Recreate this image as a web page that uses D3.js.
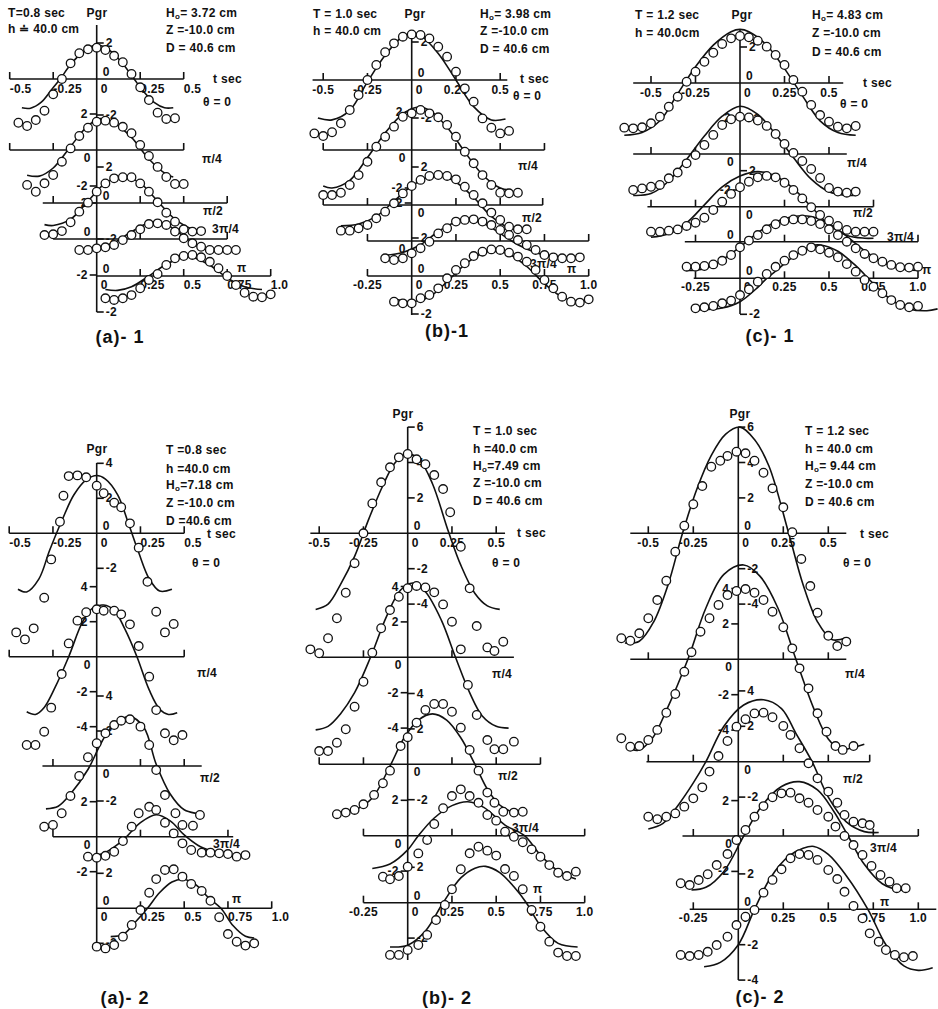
<!DOCTYPE html>
<html>
<head>
<meta charset="utf-8">
<script src="https://cdn.jsdelivr.net/npm/d3@7"></script>
<style>
body{margin:0;background:#fff}
svg text{font-family:"Liberation Sans",Arial,sans-serif;font-weight:bold;fill:#111;font-size:12px;letter-spacing:0.3px}
.cap{font-size:18px;letter-spacing:1px}
</style>
</head>
<body>
<script>
//DATA
//-------------------------------------------------------------------------
const thetaNames = ["θ = 0", "π/4", "π/2", "3π/4", "π"];
const topTimeLabels = [-0.5, -0.25, 0, 0.25, 0.5];
const aBottomLabels = [0, 0.25, 0.5, 0.75, 1];
const bcBottomLabels = [-0.25, 0, 0.25, 0.5, 0.75, 1];

//(a)-1  T = 0.8 sec
const a1Info = ["T=0.8 sec", "h ≐ 40.0 cm", "Ho= 3.72 cm", "Z =-10.0 cm", "D = 40.6 cm"];
const a1Spans = [[-0.5,0.5],[-0.5,0.5],[-0.31,0.75],[-0.25,0.75],[0,1]];
const a1Ticks = [[-0.5,-0.25,0.25,0.5],[-0.5,-0.25,0.25,0.5],[-0.25,0.25,0.5,0.75],[-0.25,0.25,0.5,0.75],[0.25,0.5,0.75,1]];
const a1YTicks = [[[2,"r"],[0,"ra"],[-2,"r"]],[[2,"l"],[0,"lb"],[-2,"l"]],[[2,"r"],[0,"ra"],[-2,"r"]],[[2,"l"],[0,"la"],[-2,"l"]],[[0,"ra"],[-2,"r"]]];
const a1Curves = [
 [[-0.43,-1.6],[-0.38,-1.62],[-0.32,-1.3],[-0.26,-0.6],[-0.21,0],[-0.15,0.8],[-0.08,1.5],[0,1.9],[0.08,1.55],[0.15,0.85],[0.215,0],[0.27,-0.7],[0.33,-1.3],[0.39,-1.6],[0.44,-1.6]],
 [[-0.4,-1.4],[-0.33,-1.45],[-0.25,-1.0],[-0.15,0.2],[-0.05,1.35],[0.02,1.75],[0.1,1.5],[0.2,0.7],[0.3,-0.5],[0.4,-1.35],[0.44,-1.5]],
 [[-0.3,-1.2],[-0.25,-1.25],[-0.15,-0.9],[-0.05,0.1],[0.05,1.1],[0.15,1.5],[0.25,1.1],[0.35,0.1],[0.45,-0.9],[0.55,-1.45],[0.6,-1.5]],
 [[-0.1,-0.55],[0,-0.5],[0.1,-0.2],[0.2,0.4],[0.3,0.9],[0.35,0.95],[0.42,0.7],[0.5,0.15],[0.58,-0.4],[0.65,-0.6]],
 [[0.05,-0.75],[0.12,-0.8],[0.2,-0.6],[0.3,0],[0.4,0.65],[0.5,1.05],[0.55,1.05],[0.65,0.6],[0.75,-0.1],[0.85,-0.6],[0.95,-0.75]]
];
const a1Dots = [
 [[-0.45,-2.43],[-0.4,-2.61],[-0.35,-2.28],[-0.3,-1.76],[-0.25,-0.85],[-0.2,0],[-0.15,0.87],[-0.1,1.43],[-0.05,1.65],[0,1.74],[0.05,1.61],[0.1,1.29],[0.15,0.93],[0.2,0.28],[0.25,-0.46],[0.3,-1.17],[0.35,-1.87],[0.4,-2.22],[0.45,-2.18]],
 [[-0.4,-1.94],[-0.35,-2.32],[-0.3,-1.85],[-0.25,-1.39],[-0.2,-0.65],[-0.15,0.09],[-0.1,0.78],[-0.05,1.24],[0,1.57],[0.05,1.63],[0.1,1.52],[0.15,1.29],[0.2,0.93],[0.25,0.28],[0.3,-0.33],[0.35,-0.94],[0.4,-1.5],[0.45,-1.89],[0.5,-1.89]],
 [[-0.3,-1.78],[-0.25,-1.74],[-0.2,-1.56],[-0.15,-1.07],[-0.1,-0.48],[-0.05,0.02],[0,0.63],[0.05,1.09],[0.1,1.37],[0.15,1.43],[0.2,1.43],[0.25,1.09],[0.3,0.63],[0.35,0.04],[0.4,-0.54],[0.45,-1.04],[0.5,-1.46],[0.55,-1.59],[0.6,-1.56]],
 [[-0.1,-0.61],[-0.05,-0.61],[0,-0.52],[0.05,-0.46],[0.1,-0.33],[0.15,-0.06],[0.2,0.22],[0.25,0.54],[0.3,0.83],[0.35,0.87],[0.4,0.78],[0.45,0.41],[0.5,0.04],[0.55,-0.24],[0.6,-0.43],[0.65,-0.61],[0.7,-0.61],[0.75,-0.61],[0.8,-0.61]],
 [[0.05,-1.24],[0.1,-1.33],[0.15,-1.24],[0.2,-1.06],[0.25,-0.68],[0.3,-0.22],[0.35,0.11],[0.4,0.61],[0.45,0.98],[0.5,1.11],[0.55,1.17],[0.6,1.04],[0.65,0.79],[0.7,0.43],[0.75,0],[0.8,-0.5],[0.85,-0.93],[0.9,-1.15],[0.95,-1.18],[1.0,-1.02]]
];

//(b)-1  T = 1.0 sec
const b1Info = ["T = 1.0  sec", "h = 40.0 cm", "Ho= 3.98 cm", "Z =-10.0 cm", "D = 40.6 cm"];
const b1Spans = [[-0.56,0.54],[-0.5,0.75],[-0.5,0.74],[-0.25,1],[-0.25,1]];
const b1Ticks = [[-0.5,-0.25,0.25,0.5],[-0.5,-0.25,0.25,0.5,0.75],[-0.5,-0.25,0.25,0.5,0.74],[-0.25,0.25,0.5,0.75,1],[-0.25,0.25,0.5,0.75,1]];
const b1YTicks = [[[2,"r"],[0,"ra"],[-2,"r"]],[[2,"l"],[0,"lb"],[-2,"l"]],[[2,"r"],[0,"rb"]],[[2,"l"],[0,"lb"]],[[2,"r"],[0,"ra"],[-2,"r"]]];
const b1Curves = [
 [[-0.53,-2.0],[-0.45,-2.1],[-0.35,-1.6],[-0.25,-0.1],[-0.15,1.3],[-0.05,2.3],[0,2.45],[0.05,2.35],[0.15,1.4],[0.25,0],[0.35,-1.4],[0.45,-2.1],[0.53,-2.05]],
 [[-0.5,-1.9],[-0.45,-2.0],[-0.35,-1.6],[-0.25,-0.4],[-0.15,0.9],[-0.05,1.9],[0.03,2.25],[0.1,2.1],[0.2,1.2],[0.3,-0.1],[0.4,-1.3],[0.5,-2.0],[0.55,-2.1]],
 [[-0.4,-1.1],[-0.3,-1.0],[-0.2,-0.6],[-0.1,0.2],[0,1.0],[0.1,1.5],[0.15,1.55],[0.25,1.2],[0.35,0.4],[0.45,-0.6],[0.55,-1.2],[0.65,-1.3]],
 [[-0.15,-0.75],[-0.05,-0.6],[0.05,-0.2],[0.15,0.5],[0.25,1.0],[0.32,1.1],[0.4,0.95],[0.5,0.4],[0.6,-0.2],[0.7,-0.6],[0.8,-0.85],[0.9,-0.9]],
 [[-0.1,-1.2],[0,-1.35],[0.1,-1.1],[0.2,-0.3],[0.3,0.6],[0.4,1.2],[0.45,1.3],[0.55,1.15],[0.65,0.5],[0.75,-0.4],[0.85,-1.1],[0.95,-1.35],[1.0,-1.3]]
];
const b1Dots = [
 [[-0.55,-2.81],[-0.5,-2.95],[-0.45,-2.75],[-0.4,-2.28],[-0.35,-1.58],[-0.3,-0.79],[-0.25,0],[-0.2,0.79],[-0.15,1.46],[-0.1,1.93],[-0.05,2.28],[0,2.4],[0.05,2.37],[0.1,2.19],[0.15,1.75],[0.2,1.23],[0.25,0.44],[0.3,-0.44],[0.35,-1.14],[0.4,-2.02],[0.45,-2.51],[0.5,-2.81],[0.55,-2.68]],
 [[-0.5,-2.37],[-0.45,-2.37],[-0.4,-2.25],[-0.35,-1.84],[-0.3,-1.32],[-0.25,-0.62],[-0.2,0.17],[-0.15,0.7],[-0.1,1.23],[-0.05,1.75],[0,1.93],[0.05,2.11],[0.1,1.93],[0.15,1.72],[0.2,1.32],[0.25,0.7],[0.3,-0.09],[0.35,-0.7],[0.4,-1.32],[0.45,-1.84],[0.5,-2.25],[0.55,-2.28],[0.6,-2.25]],
 [[-0.4,-1.35],[-0.35,-1.35],[-0.3,-1.23],[-0.25,-1.05],[-0.2,-0.7],[-0.15,-0.35],[-0.1,0.09],[-0.05,0.61],[0,1.0],[0.05,1.32],[0.1,1.53],[0.15,1.58],[0.2,1.53],[0.25,1.35],[0.3,0.96],[0.35,0.53],[0.4,0.09],[0.45,-0.4],[0.5,-0.79],[0.55,-1.14],[0.6,-1.28],[0.65,-1.28]],
 [[-0.15,-0.91],[-0.1,-1.0],[-0.05,-0.91],[0,-0.65],[0.05,-0.38],[0.1,-0.04],[0.15,0.4],[0.2,0.67],[0.25,1.02],[0.3,1.11],[0.35,1.14],[0.4,1.02],[0.45,0.84],[0.5,0.58],[0.55,0.32],[0.6,0.05],[0.65,-0.21],[0.7,-0.47],[0.75,-0.74],[0.8,-0.86],[0.85,-0.91],[0.9,-0.91],[0.95,-0.86]],
 [[-0.1,-1.35],[-0.05,-1.44],[0,-1.44],[0.05,-1.17],[0.1,-1.0],[0.15,-0.65],[0.2,-0.12],[0.25,0.32],[0.3,0.67],[0.35,1.05],[0.4,1.28],[0.45,1.4],[0.5,1.37],[0.55,1.23],[0.6,1.02],[0.65,0.75],[0.7,0.32],[0.75,-0.21],[0.8,-0.65],[0.85,-1.09],[0.9,-1.35],[0.95,-1.4],[1.0,-1.23]]
];

//(c)-1  T = 1.2 sec
const c1Info = ["T = 1.2 sec", "h = 40.0cm", "Ho= 4.83 cm", "Z =-10.0 cm", "D = 40.6 cm"];
const c1Spans = [[-0.6,0.58],[-0.6,0.6],[-0.52,0.75],[-0.31,1],[-0.26,1]];
const c1Ticks = [[-0.5,-0.25,0.25,0.5],[-0.5,-0.25,0.25,0.5],[-0.5,-0.25,0.25,0.5,0.75],[-0.25,0.25,0.5,1],[-0.25,0.25,0.5,0.75,1]];
const c1YTicks = [[[2,"r"],[0,"ra"],[-2,"r"]],[[2,"l"],[0,"lb"],[-2,"l"]],[[2,"r"],[0,"rb"]],[[0,"la"]],[[0,"ra"],[-2,"r"]]];
const c1Curves = [
 [[-0.65,-2.9],[-0.55,-2.75],[-0.45,-2.1],[-0.35,-0.6],[-0.25,0.9],[-0.15,2.1],[-0.05,2.85],[0,2.98],[0.05,2.85],[0.15,2.1],[0.25,0.8],[0.35,-0.7],[0.45,-2.1],[0.55,-2.75],[0.65,-2.9]],
 [[-0.6,-2.3],[-0.5,-2.2],[-0.4,-1.5],[-0.3,-0.3],[-0.2,1.0],[-0.1,2.1],[0,2.65],[0.1,2.2],[0.2,1.1],[0.3,-0.2],[0.4,-1.4],[0.5,-2.1],[0.6,-2.3],[0.65,-2.3]],
 [[-0.5,-1.7],[-0.4,-1.5],[-0.3,-0.9],[-0.2,0.1],[-0.1,1.1],[0,1.7],[0.1,1.95],[0.2,1.7],[0.3,1.0],[0.4,0],[0.5,-1.0],[0.6,-1.6],[0.7,-1.75],[0.75,-1.75]],
 [[-0.3,-1.6],[-0.2,-1.5],[-0.1,-1.0],[0,-0.3],[0.1,0.5],[0.2,1.1],[0.3,1.4],[0.4,1.4],[0.5,1.0],[0.6,0.3],[0.7,-0.5],[0.8,-1.15],[0.9,-1.5],[1.0,-1.6]],
 [[-0.25,-1.75],[-0.1,-1.65],[0,-1.3],[0.1,-0.5],[0.15,0],[0.2,0.4],[0.3,1.2],[0.4,1.8],[0.45,1.85],[0.55,1.5],[0.65,0.7],[0.75,-0.3],[0.85,-1.2],[0.95,-1.7],[1.05,-1.8],[1.11,-1.7]]
];
const c1Dots = [
 [[-0.65,-2.48],[-0.6,-2.52],[-0.55,-2.46],[-0.5,-2.24],[-0.45,-1.87],[-0.4,-1.32],[-0.35,-0.76],[-0.3,0.07],[-0.25,0.63],[-0.2,1.18],[-0.15,1.68],[-0.1,2.17],[-0.05,2.48],[0,2.61],[0.05,2.54],[0.1,2.35],[0.15,2.02],[0.2,1.56],[0.25,1.0],[0.3,0.17],[0.35,-0.48],[0.4,-1.22],[0.45,-1.78],[0.5,-2.15],[0.55,-2.43],[0.6,-2.52],[0.65,-2.39]],
 [[-0.6,-2.0],[-0.55,-1.91],[-0.5,-1.82],[-0.45,-1.72],[-0.4,-1.35],[-0.35,-1.03],[-0.3,-0.52],[-0.25,-0.06],[-0.2,0.5],[-0.15,1.06],[-0.1,1.61],[-0.05,1.93],[0,2.07],[0.05,2.03],[0.1,1.86],[0.15,1.56],[0.2,1.11],[0.25,0.56],[0.3,0.06],[0.35,-0.39],[0.4,-0.83],[0.45,-1.33],[0.5,-1.89],[0.55,-2.09],[0.6,-2.15],[0.65,-2.09]],
 [[-0.5,-1.39],[-0.45,-1.39],[-0.4,-1.33],[-0.35,-1.26],[-0.3,-1.07],[-0.25,-0.89],[-0.2,-0.61],[-0.15,-0.18],[-0.1,0.28],[-0.05,0.71],[0,1.08],[0.05,1.39],[0.1,1.63],[0.15,1.71],[0.2,1.63],[0.25,1.33],[0.3,0.93],[0.35,0.46],[0.4,-0.03],[0.45,-0.46],[0.5,-0.78],[0.55,-1.07],[0.6,-1.29],[0.65,-1.39],[0.7,-1.39],[0.75,-1.39]],
 [[-0.3,-1.39],[-0.25,-1.39],[-0.2,-1.35],[-0.15,-1.26],[-0.1,-1.06],[-0.05,-0.74],[0,-0.31],[0.05,0.06],[0.1,0.37],[0.15,0.69],[0.2,0.97],[0.25,1.15],[0.3,1.24],[0.35,1.24],[0.4,1.15],[0.45,0.98],[0.5,0.69],[0.55,0.37],[0.6,0],[0.65,-0.37],[0.7,-0.68],[0.75,-0.92],[0.8,-1.11],[0.85,-1.29],[0.9,-1.42],[0.95,-1.44],[1.0,-1.39]],
 [[-0.25,-1.67],[-0.2,-1.61],[-0.15,-1.54],[-0.1,-1.39],[-0.05,-1.24],[0,-0.93],[0.05,-0.61],[0.1,-0.19],[0.15,0.24],[0.2,0.64],[0.25,0.98],[0.3,1.29],[0.35,1.53],[0.4,1.72],[0.45,1.61],[0.5,1.42],[0.55,1.17],[0.6,0.79],[0.65,0.37],[0.7,-0.09],[0.75,-0.47],[0.8,-0.83],[0.85,-1.21],[0.9,-1.48],[0.95,-1.61],[1.0,-1.54]]
];

//(a)-2  T = 0.8 sec
const a2Info = ["T =0.8 sec", "h =40.0 cm", "Ho=7.18 cm", "Z =-10.0 cm", "D =40.6 cm"];
const a2Spans = [[-0.5,0.5],[-0.5,0.5],[-0.31,0.6],[-0.25,0.78],[0,1]];
const a2Ticks = [[-0.5,-0.25,0.25,0.5],[-0.5,-0.25,0.5],[-0.25,0.25,0.5],[-0.25,0.25,0.75],[0.25,0.5,0.75,1]];
const a2YTicks = [[[4,"r"],[2,"r"],[0,"ra"],[-2,"r"]],[[4,"l"],[2,"l"],[0,"lb"],[-2,"l"],[-4,"l"]],[[4,"r"],[2,"r"],[0,"rb"],[-2,"r"]],[[2,"l"],[0,"lb"],[-2,"l"]],[[2,"r"],[0,"ra"],[-2,"r"]]];
const a2Curves = [
 [[-0.45,-3.2],[-0.4,-3.35],[-0.33,-2.6],[-0.27,-1.0],[-0.2,0.7],[-0.13,2.2],[-0.06,3.05],[0,3.3],[0.05,3.1],[0.12,2.2],[0.18,0.6],[0.24,-1.1],[0.3,-2.6],[0.36,-3.3],[0.43,-3.2]],
 [[-0.4,-3.15],[-0.35,-3.3],[-0.3,-2.9],[-0.24,-1.8],[-0.16,0],[-0.08,2.0],[-0.02,2.8],[0.04,2.95],[0.1,2.65],[0.16,1.6],[0.23,0],[0.3,-1.9],[0.36,-3.0],[0.41,-3.3],[0.46,-3.2]],
 [[-0.29,-2.45],[-0.22,-2.3],[-0.15,-1.6],[-0.05,-0.2],[0.03,1.4],[0.1,2.4],[0.19,2.82],[0.27,2.2],[0.34,0.1],[0.42,-1.6],[0.5,-2.5],[0.6,-2.75]],
 [[-0.05,-1.15],[0.05,-0.9],[0.15,-0.2],[0.25,0.8],[0.34,1.25],[0.42,0.9],[0.5,0.1],[0.58,-0.5],[0.65,-0.8]],
 [[0.08,-1.62],[0.15,-1.5],[0.22,-0.8],[0.29,0],[0.36,0.9],[0.43,1.5],[0.49,1.66],[0.56,1.4],[0.64,0.6],[0.71,0],[0.78,-1.0],[0.85,-1.6],[0.9,-1.7]]
];
const a2Dots = [
 [[-0.3,-3.68],[-0.26,-1.49],[-0.21,0.66],[-0.19,2.15],[-0.16,3.27],[-0.11,3.31],[-0.06,3.2],[0,2.72],[0.04,2.29],[0.1,1.75],[0.14,1.49],[0.19,0.57],[0.24,-0.82],[0.29,-2.77]],
 [[-0.46,1.39],[-0.41,0.99],[-0.36,1.62],[-0.26,-2.91],[-0.2,-0.99],[-0.16,0.76],[-0.11,2.06],[-0.06,2.54],[0,2.71],[0.04,2.63],[0.1,2.63],[0.14,2.42],[0.19,1.85],[0.24,0.61],[0.3,-1.14],[0.34,-3.05],[0.34,2.57],[0.39,1.39],[0.44,1.87]],
 [[-0.4,1.2],[-0.35,1.2],[-0.3,1.96],[-0.2,-2.7],[-0.15,-1.71],[-0.1,-0.57],[-0.05,0.5],[0,1.3],[0.05,1.87],[0.1,2.34],[0.14,2.59],[0.19,2.67],[0.25,2.25],[0.3,1.2],[0.34,-0.23],[0.39,-1.66],[0.39,1.87],[0.44,1.47],[0.49,1.77],[0.59,-2.8]],
 [[-0.3,0.57],[-0.25,0.67],[-0.05,-1.14],[0,-1.2],[0.05,-1.09],[0.1,-0.86],[0.15,-0.25],[0.2,0.57],[0.24,1.34],[0.3,1.71],[0.34,1.53],[0.39,0.8],[0.44,0.19],[0.49,-0.38],[0.54,-0.76],[0.6,-0.91],[0.65,-0.91],[0.7,-0.95],[0.75,-0.99],[0.8,-1.14],[0.85,-1.05],[0.45,1.34],[0.49,0.67],[0.55,0.63]],
 [[0,-2.19],[0.05,-2.29],[0.1,-2.1],[0.15,-1.62],[0.2,-0.95],[0.25,-0.1],[0.3,0.89],[0.34,1.67],[0.39,2.19],[0.44,2.23],[0.49,1.81],[0.54,1.39],[0.6,0.99],[0.65,0.43],[0.7,-0.51],[0.75,-1.47],[0.8,-1.91],[0.85,-2.13],[0.9,-2.0]]
];

//(b)-2  T = 1.0 sec
const b2Info = ["T = 1.0  sec", "h =40.0 cm", "Ho=7.49 cm", "Z =-10.0 cm", "D = 40.6 cm"];
const b2Spans = [[-0.55,0.55],[-0.51,0.6],[-0.5,0.75],[-0.25,1],[-0.25,1]];
const b2Ticks = [[-0.5,-0.25,0.25,0.5],[-0.25,0.25],[-0.5,-0.25,0.25,0.5,0.75],[-0.25,0.25,0.5,1],[-0.25,0.25,0.5,0.75,1]];
const b2YTicks = [[[6,"r"],[4,"r"],[2,"r"],[0,"ra"],[-2,"r"],[-4,"r"]],[[4,"l"],[2,"l"],[0,"lb"],[-2,"l"],[-4,"l"]],[[4,"r"],[2,"r"],[0,"rb"],[-2,"r"]],[[2,"l"],[0,"lb"],[-2,"l"]],[[2,"r"],[0,"ra"],[-2,"r"]]];
const b2Curves = [
 [[-0.52,-4.3],[-0.45,-4.0],[-0.38,-2.9],[-0.3,-1.3],[-0.22,0.8],[-0.14,2.7],[-0.07,4.0],[0,4.5],[0.07,4.1],[0.14,2.8],[0.23,0.1],[0.3,-1.8],[0.38,-3.4],[0.45,-4.1],[0.52,-4.3]],
 [[-0.52,-4.1],[-0.45,-3.9],[-0.38,-3.2],[-0.3,-2.0],[-0.21,0],[-0.12,2.3],[-0.04,3.8],[0.03,4.2],[0.1,3.7],[0.19,2.1],[0.27,0],[0.35,-2.0],[0.42,-3.3],[0.5,-3.9],[0.57,-4.0]],
 [[-0.3,-2.6],[-0.2,-1.9],[-0.1,-0.1],[-0.02,1.5],[0.06,2.5],[0.14,2.85],[0.22,2.5],[0.3,1.5],[0.38,0],[0.45,-1.4],[0.52,-2.3],[0.6,-2.75]],
 [[-0.2,-1.85],[-0.1,-1.6],[0,-0.8],[0.06,0],[0.15,1.0],[0.25,1.7],[0.34,1.92],[0.43,1.6],[0.55,0.6],[0.66,0],[0.75,-1.1],[0.85,-2.0],[0.95,-2.45]],
 [[-0.1,-2.5],[0,-2.4],[0.1,-1.6],[0.2,0],[0.3,1.4],[0.38,1.95],[0.44,2.05],[0.52,1.7],[0.6,0.9],[0.67,0],[0.75,-1.3],[0.85,-2.3],[0.96,-2.5]]
];
const b2Dots = [
 [[-0.45,-5.93],[-0.4,-4.8],[-0.35,-3.36],[-0.3,-1.69],[-0.25,0],[-0.2,1.69],[-0.15,2.88],[-0.1,3.73],[-0.05,4.29],[0,4.48],[0.05,4.18],[0.1,3.9],[0.15,3.29],[0.2,2.5],[0.24,1.19],[0.3,-0.76],[0.35,-3.11],[0.39,-5.24]],
 [[-0.55,0.45],[-0.5,0.23],[-0.3,-2.79],[-0.25,-1.38],[-0.2,0.26],[-0.15,1.64],[-0.1,2.67],[-0.05,3.42],[0,3.9],[0.05,4.03],[0.1,3.95],[0.15,3.67],[0.2,2.99],[0.25,2.01],[0.3,0.45],[0.34,-1.56],[0.39,-3.26],[0.45,0.56],[0.49,0.36],[0.54,0.88]],
 [[-0.5,0.75],[-0.45,0.75],[-0.4,1.22],[-0.35,1.98],[-0.4,-2.82],[-0.35,-2.73],[-0.3,-2.58],[-0.25,-2.26],[-0.19,-1.73],[-0.14,-1.07],[-0.1,-0.36],[-0.04,1.03],[0,1.53],[0.05,2.35],[0.1,3.07],[0.15,3.41],[0.2,3.41],[0.25,2.97],[0.3,2.07],[0.35,0.81],[0.4,-0.36],[0.45,-1.6],[0.49,-2.17],[0.54,-2.68],[0.6,-2.73],[0.65,-2.68],[0.45,1.37],[0.49,0.85],[0.54,0.85],[0.6,1.28]],
 [[-0.14,-2.32],[-0.1,-2.46],[-0.05,-2.28],[0,-1.75],[0.06,-1.0],[0.11,-0.24],[0.15,0.66],[0.2,1.55],[0.25,2.24],[0.3,2.62],[0.35,2.24],[0.4,1.86],[0.45,1.17],[0.5,0.85],[0.55,0.23],[0.6,-0.06],[0.65,-0.37],[0.7,-0.77],[0.75,-1.19],[0.8,-1.66],[0.85,-2.09],[0.9,-2.28],[0.95,-2.03]],
 [[-0.1,-2.95],[-0.05,-2.95],[0,-2.67],[0.06,-2.39],[0.11,-1.82],[0.16,-0.98],[0.21,-0.13],[0.25,0.76],[0.3,1.89],[0.35,2.79],[0.4,3.16],[0.45,2.94],[0.5,2.66],[0.55,1.9],[0.6,1.51],[0.65,0.76],[0.7,-0.41],[0.75,-1.36],[0.8,-2.2],[0.85,-2.82],[0.9,-3.01],[0.95,-3.01]]
];

//(c)-2  T = 1.2 sec
const c2Info = ["T = 1.2  sec", "h = 40.0 cm", "Ho= 9.44 cm", "Z =-10.0 cm", "D = 40.6 cm"];
const c2Spans = [[-0.6,0.6],[-0.6,0.6],[-0.51,0.73],[-0.31,1],[-0.27,1.1]];
const c2Ticks = [[-0.5,-0.25,0.25,0.5],[-0.5,0.25,0.5],[-0.5,-0.25,0.25,0.5,0.73],[-0.25,0.25,0.5,0.75,1],[-0.25,0.25,0.5,0.75,1]];
const c2YTicks = [[[6,"r"],[4,"r"],[2,"r"],[0,"ra"],[-2,"r"],[-4,"r"]],[[4,"l"],[2,"l"],[0,"lb"],[-2,"l"],[-4,"l"]],[[4,"r"],[2,"r"],[0,"rb"],[-2,"r"]],[[2,"l"],[0,"lb"],[-2,"l"]],[[2,"r"],[0,"ra"],[-2,"r"],[-4,"r"]]];
const c2Curves = [
 [[-0.63,-6.2],[-0.55,-6.1],[-0.47,-5.0],[-0.39,-2.9],[-0.31,0],[-0.23,2.5],[-0.15,4.4],[-0.07,5.6],[0.01,6.0],[0.09,5.3],[0.17,3.8],[0.28,0],[0.36,-2.9],[0.44,-5.0],[0.52,-6.0],[0.6,-5.9]],
 [[-0.62,-4.9],[-0.56,-5.15],[-0.48,-4.5],[-0.4,-2.9],[-0.28,0],[-0.18,2.9],[-0.08,4.8],[0.03,5.33],[0.12,4.7],[0.22,2.9],[0.32,0],[0.42,-2.8],[0.5,-4.5],[0.57,-5.1],[0.63,-5.0],[0.7,-4.8]],
 [[-0.5,-3.8],[-0.42,-3.5],[-0.33,-2.4],[-0.25,-1.2],[-0.18,0],[-0.08,2.0],[0.03,3.2],[0.14,3.5],[0.24,3.0],[0.32,1.6],[0.41,0],[0.5,-2.0],[0.6,-3.4],[0.7,-3.95],[0.78,-4.0]],
 [[-0.26,-3.05],[-0.18,-2.9],[-0.08,-2.0],[0.03,0],[0.13,1.7],[0.24,2.8],[0.34,3.07],[0.44,2.6],[0.53,1.4],[0.61,0],[0.7,-1.6],[0.8,-2.7],[0.9,-3.05],[0.95,-3.0]],
 [[-0.19,-3.25],[-0.1,-3.0],[0,-2.0],[0.09,0],[0.18,1.8],[0.28,3.0],[0.36,3.45],[0.42,3.55],[0.5,3.1],[0.6,1.9],[0.72,0],[0.82,-2.0],[0.92,-3.2],[1.0,-3.45],[1.08,-3.3]]
];
const c2Dots = [
 [[-0.65,-5.93],[-0.6,-6.07],[-0.55,-5.65],[-0.5,-4.8],[-0.45,-3.77],[-0.4,-2.68],[-0.35,-1.04],[-0.3,0.43],[-0.25,1.64],[-0.2,2.67],[-0.15,3.76],[-0.1,4.1],[-0.06,4.37],[-0.01,4.61],[0.04,4.52],[0.09,4.1],[0.14,3.42],[0.19,2.54],[0.25,1.47],[0.3,0.06],[0.35,-1.45],[0.4,-2.98],[0.44,-4.49],[0.5,-5.79],[0.55,-6.37],[0.6,-6.12]],
 [[-0.65,-4.46],[-0.6,-4.94],[-0.55,-4.9],[-0.5,-4.56],[-0.45,-3.99],[-0.4,-3.02],[-0.35,-1.96],[-0.3,-0.7],[-0.26,0.4],[-0.21,1.56],[-0.16,2.32],[-0.11,3.07],[-0.06,3.63],[-0.01,3.86],[0.04,3.97],[0.09,3.76],[0.14,3.35],[0.19,2.69],[0.25,1.81],[0.3,0.62],[0.34,-0.51],[0.39,-1.64],[0.44,-3.05],[0.49,-4.09],[0.54,-4.9],[0.58,-5.12],[0.64,-4.9]],
 [[-0.5,-3.11],[-0.45,-3.25],[-0.4,-3.11],[-0.35,-2.92],[-0.3,-2.54],[-0.25,-2.07],[-0.2,-1.45],[-0.16,-0.56],[-0.11,0.32],[-0.06,1.17],[-0.01,1.98],[0.04,2.4],[0.09,2.73],[0.14,2.77],[0.19,2.51],[0.25,2.02],[0.29,1.51],[0.34,0.76],[0.39,-0.09],[0.44,-0.94],[0.5,-1.69],[0.55,-2.32],[0.59,-3.01],[0.64,-3.39],[0.69,-3.48],[0.73,-3.58]],
 [[-0.32,-2.67],[-0.27,-2.77],[-0.22,-2.49],[-0.17,-2.16],[-0.12,-1.64],[-0.06,-1.02],[-0.01,-0.23],[0.04,0.34],[0.09,1.09],[0.14,1.69],[0.19,2.19],[0.24,2.41],[0.29,2.45],[0.34,2.13],[0.39,1.88],[0.44,1.47],[0.5,1.09],[0.54,0.53],[0.59,0],[0.64,-0.51],[0.69,-1.07],[0.74,-1.69],[0.79,-2.2],[0.84,-2.58],[0.88,-2.95],[0.93,-2.95]],
 [[-0.32,-2.58],[-0.27,-2.64],[-0.22,-2.58],[-0.17,-2.4],[-0.12,-2.02],[-0.06,-1.55],[-0.01,-0.89],[0.04,-0.42],[0.09,-0.04],[0.14,0.94],[0.19,1.66],[0.24,2.26],[0.29,2.88],[0.34,3.12],[0.39,3.07],[0.44,2.79],[0.5,2.22],[0.55,1.71],[0.59,0.99],[0.64,0.19],[0.69,-0.51],[0.73,-1.36],[0.78,-1.83],[0.82,-2.3],[0.87,-2.58],[0.92,-2.71],[0.97,-2.64]]
];


//LAYOUT (pixel positions of each panel)
//-------------------------------------------------------------------------
const layA1 = {x0:96.7, pxs:174, ppu:18, base:[79,150,203,239,276], axis:[25,312], anchor:"start",
	text:[[8,17],[8,33],[166,17],[166,34],[166,52]], pgr:[97,17], tsec:[213,83],
	rowLbl:[[203,106],[202,163],[203,215],[212,233],[237,272]], cap:[120,343]};
const layB1 = {x0:411.7, pxs:177, ppu:19, base:[80,150,205,241,276], axis:[32,315], anchor:"middle",
	text:[[313,18],[313,35],[480,18],[480,35],[480,53]], pgr:[415,18], tsec:[520,83],
	rowLbl:[[513,100],[518,170],[522,222],[530,268],[567,273]], cap:[447,337]};
const layC1 = {x0:740, pxs:178, ppu:18, base:[83,154,206.7,241.7,278.3], axis:[30,314], anchor:"middle",
	text:[[635,19],[635,37],[812,19],[812,37],[812,56]], pgr:[742,19], tsec:[863,87],
	rowLbl:[[840,108],[847,167],[853,217],[887,241],[922,274]], cap:[770,342]};
const layA2 = {x0:96.7, pxs:175, ppu:17.5, base:[533.3,656.7,766,836.7,908.3], axis:[463,948], anchor:"start",
	text:[[166,454],[166,473],[166,489],[166,507],[166,525]], pgr:[97,453], tsec:[207,538],
	rowLbl:[[192,567],[197,677],[200,782],[213,848],[232,903]], cap:[125,1004]};
const layB2 = {x0:407.7, pxs:177, ppu:17.7, base:[533.3,657.3,764.3,835.7,902.7], axis:[427,960], anchor:"middle",
	text:[[473,435],[473,453],[473,470],[473,487],[473,505]], pgr:[403,418], tsec:[517,537],
	rowLbl:[[492,567],[492,678],[498,780],[512,832],[533,893]], cap:[447,1004]};
const layC2 = {x0:738.3, pxs:180, ppu:17.7, base:[533.3,659.3,761.7,836,909.3], axis:[427,980], anchor:"middle",
	text:[[805,435],[805,453],[805,470],[805,488],[805,506]], pgr:[740,418], tsec:[860,538],
	rowLbl:[[843,567],[845,678],[843,783],[870,852],[880,906]], cap:[760,1003]};

const panels = [
	{lay:layA1, info:a1Info, spans:a1Spans, ticks:a1Ticks, yTicks:a1YTicks, curves:a1Curves, dots:a1Dots, bottom:aBottomLabels, cap:"(a)- 1"},
	{lay:layB1, info:b1Info, spans:b1Spans, ticks:b1Ticks, yTicks:b1YTicks, curves:b1Curves, dots:b1Dots, bottom:bcBottomLabels, cap:"(b)-1"},
	{lay:layC1, info:c1Info, spans:c1Spans, ticks:c1Ticks, yTicks:c1YTicks, curves:c1Curves, dots:c1Dots, bottom:bcBottomLabels, cap:"(c)- 1"},
	{lay:layA2, info:a2Info, spans:a2Spans, ticks:a2Ticks, yTicks:a2YTicks, curves:a2Curves, dots:a2Dots, bottom:aBottomLabels, cap:"(a)- 2"},
	{lay:layB2, info:b2Info, spans:b2Spans, ticks:b2Ticks, yTicks:b2YTicks, curves:b2Curves, dots:b2Dots, bottom:bcBottomLabels, cap:"(b)- 2"},
	{lay:layC2, info:c2Info, spans:c2Spans, ticks:c2Ticks, yTicks:c2YTicks, curves:c2Curves, dots:c2Dots, bottom:bcBottomLabels, cap:"(c)- 2"}
];


//SVG
//-------------------------------------------------------------------------
const svg = d3.select("body").append("svg")
	.attr("width", 938)
	.attr("height", 1009);

const fmt = v => v === 1 ? "1.0" : String(v);

function addText(g, x, y, str, anchor){
	const t = g.append("text").attr("x", x).attr("y", y).attr("text-anchor", anchor || "start");
	if (str.startsWith("Ho")){ //H with small subscript o
		t.append("tspan").text("H");
		t.append("tspan").attr("font-size", "8px").attr("dy", 2).text("o");
		t.append("tspan").attr("dy", -2).text(str.slice(2));
	} else {
		t.text(str);
	}
	return t;
}

function drawPanel(P){
	const L = P.lay;
	const g = svg.append("g");

	const x = d3.scaleLinear().domain([0, 1]).range([L.x0, L.x0 + L.pxs]);
	const ys = L.base.map(b => d3.scaleLinear().domain([0, 1]).range([b, b - L.ppu]));

	const stroke = sel => sel.attr("stroke", "#111").attr("stroke-width", 1.6).attr("fill", "none");

	//vertical Pgr axis
	g.append("line")
		.attr("x1", L.x0).attr("x2", L.x0)
		.attr("y1", L.axis[0]).attr("y2", L.axis[1])
		.call(stroke);

	ys.forEach((y, i) => {
		//time baseline for each theta
		g.append("line")
			.attr("x1", x(P.spans[i][0])).attr("x2", x(P.spans[i][1]))
			.attr("y1", y(0)).attr("y2", y(0))
			.call(stroke);

		g.selectAll(null)
			.data(P.ticks[i])
			.join("line")
			.attr("x1", d => x(d)).attr("x2", d => x(d))
			.attr("y1", y(0)).attr("y2", y(0) - 7)
			.call(stroke);

		//Pgr labels along the axis
		P.yTicks[i].forEach(([v, side]) => {
			const yy = y(v);
			const right = side[0] === "r";
			if (v !== 0){
				g.append("line")
					.attr("x1", L.x0).attr("x2", L.x0 + (right ? 7 : -7))
					.attr("y1", yy).attr("y2", yy)
					.call(stroke);
			}
			let ty = yy + 4;
			if (side[1] === "a") ty = yy - 3;
			if (side[1] === "b") ty = yy + 12;
			g.append("text")
				.attr("x", L.x0 + (right ? (v === 0 ? 6 : 9) : (v === 0 ? -6 : -9)))
				.attr("y", ty)
				.attr("text-anchor", right ? "start" : "end")
				.text(v);
		});

		addText(g, L.rowLbl[i][0], L.rowLbl[i][1], thetaNames[i]);
	});

	//time tick labels
	const timeLabels = (vals, y) => {
		vals.forEach(v => {
			if (v === 0){
				addText(g, L.x0 + 4, y, "0");
			} else {
				addText(g, x(v), y, fmt(v), L.anchor);
			}
		});
	};
	timeLabels(topTimeLabels, ys[0](0) + 14);
	timeLabels(P.bottom, ys[4](0) + 13);
	addText(g, L.tsec[0], L.tsec[1], "t  sec");

	//theoretical curves
	P.curves.forEach((c, i) => {
		const line = d3.line()
			.x(d => x(d[0]))
			.y(d => ys[i](d[1]))
			.curve(d3.curveCatmullRom.alpha(0.5));
		g.append("path")
			.datum(c)
			.attr("d", line)
			.call(stroke);
	});

	//measured values
	P.dots.forEach((ds, i) => {
		g.selectAll(null)
			.data(ds)
			.join("circle")
			.attr("cx", d => x(d[0]))
			.attr("cy", d => ys[i](d[1]))
			.attr("r", 4.3)
			.attr("fill", "#fff")
			.attr("stroke", "#111")
			.attr("stroke-width", 1.3);
	});

	//texts
	P.info.forEach((s, i) => addText(g, L.text[i][0], L.text[i][1], s));
	addText(g, L.pgr[0], L.pgr[1], "Pgr", "middle");
	addText(g, L.cap[0], L.cap[1], P.cap, "middle").attr("class", "cap");
}

panels.forEach(drawPanel);
</script>
</body>
</html>
